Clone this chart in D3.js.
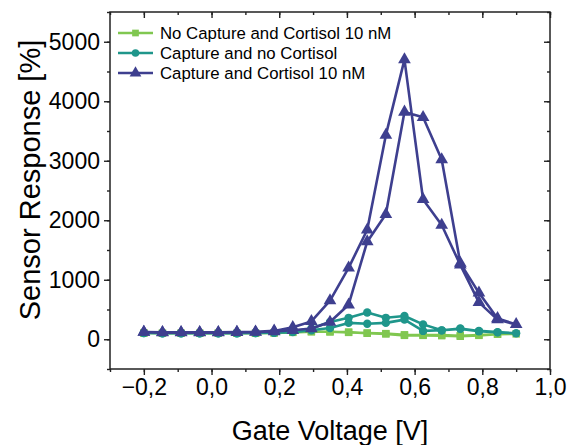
<!DOCTYPE html>
<html>
<head>
<meta charset="utf-8">
<script src="https://cdn.jsdelivr.net/npm/d3@7"></script>
<style>
    body { margin: 0; background: white; }
    svg { display: block; font-family: "Liberation Sans", Arial, sans-serif; }
</style>
</head>
<body>
<div id="chart"></div>
<script>

// Data
// --------------------------------------------------------------------------------------------

// Gate voltage steps of the sweep [V]
const voltage = [-0.2, -0.145, -0.09, -0.035, 0.02, 0.075, 0.13, 0.185, 0.24, 0.295, 0.35,
                 0.405, 0.46, 0.515, 0.57, 0.625, 0.68, 0.735, 0.79, 0.845, 0.9]

// Sensor response [%], forward sweep and backward sweep (both listed by ascending voltage)
const noCaptureUp   = [105, 100, 100, 100, 100, 100, 100, 105, 115, 125, 125, 120, 100, 90, 65, 65, 60, 50, 65, 85, 90]
const noCaptureDown = [105, 100, 100, 100, 100, 100, 100, 110, 120, 130, 125, 115, 105, 95, 75, 70, 70, 60, 70, 85, 90]

const noCortisolUp   = [105, 100, 100, 100, 100, 100, 105, 110, 130, 180, 290, 360, 450, 360, 390, 250, 150, 180, 140, 120, 100]
const noCortisolDown = [105, 100, 100, 100, 100, 100, 105, 110, 120, 150, 190, 275, 260, 275, 330, 140, 150, 175, 135, 115, 100]

const cortisolUp   = [120, 115, 115, 115, 115, 120, 125, 140, 200, 300, 650, 1200, 1840, 3430, 4700, 2350, 1920, 1250, 620, 330, 250]
const cortisolDown = [120, 110, 110, 110, 110, 115, 120, 130, 150, 180, 290, 580, 1640, 2100, 3820, 3730, 3020, 1280, 780, 350, 200]

const seriesNames = ["No Capture and Cortisol 10 nM", "Capture and no Cortisol", "Capture and Cortisol 10 nM"]
const seriesColours = ["#80c750", "#1f968b", "#3e3f8f"]
const seriesSymbols = [d3.symbolSquare, d3.symbolCircle, d3.symbolTriangle]

const xTicks = [-0.2, 0.0, 0.2, 0.4, 0.6, 0.8, 1.0]
const yTicks = [0, 1000, 2000, 3000, 4000, 5000]


// Chart
// --------------------------------------------------------------------------------------------

function drawChart(container) {

    const width = 575, height = 445
    const plot = {left: 110, right: 550, top: 12, bottom: 369}

    // Join up and down sweeps into one loop per series
    function sweepLoop(up, down) {
        let pts = voltage.map((v, i) => ({x: v, y: up[i]}))
        let back = voltage.map((v, i) => ({x: v, y: down[i]})).reverse()
        return pts.concat(back.slice(1))
    }
    let series = [
        sweepLoop(noCaptureUp, noCaptureDown),
        sweepLoop(noCortisolUp, noCortisolDown),
        sweepLoop(cortisolUp, cortisolDown)
    ]

    let x = d3.scaleLinear().domain([-0.3, 1.0]).range([plot.left, plot.right])
    let y = d3.scaleLinear().domain([-500, 5500]).range([plot.bottom, plot.top])

    // Comma decimals and a real minus sign
    let locale = d3.formatLocale({decimal: ",", thousands: "", grouping: [3], currency: ["", ""], minus: "\u2212"})
    let fmtX = locale.format(".1f")

    let svg = d3.select(container).append("svg")
        .attr("width", width)
        .attr("height", height)

    let xMinor = d3.range(-0.3, 1.0001, 0.1).map(d => +d.toFixed(2))
    let yMinor = d3.range(-500, 5501, 500)

    // Axes: outward ticks on left/bottom, inward on top/right
    function axisStyle(g) {
        g.select(".domain").remove()
        g.selectAll("line").attr("stroke", "#222").attr("stroke-width", 1.4)
    }

    svg.append("g")
        .attr("transform", `translate(0,${plot.bottom})`)
        .call(d3.axisBottom(x).tickValues(xMinor).tickSize(3).tickFormat(""))
        .call(axisStyle)
    svg.append("g")
        .attr("transform", `translate(0,${plot.bottom})`)
        .call(d3.axisBottom(x).tickValues(xTicks).tickSize(6).tickPadding(4).tickFormat(fmtX))
        .call(axisStyle)
        .selectAll("text")
            .attr("fill", "#000")
            .style("font-size", "23px")

    svg.append("g")
        .attr("transform", `translate(0,${plot.top})`)
        .call(d3.axisBottom(x).tickValues(xMinor).tickSize(3).tickFormat(""))
        .call(axisStyle)
    svg.append("g")
        .attr("transform", `translate(0,${plot.top})`)
        .call(d3.axisBottom(x).tickValues(xTicks).tickSize(6).tickFormat(""))
        .call(axisStyle)

    svg.append("g")
        .attr("transform", `translate(${plot.left},0)`)
        .call(d3.axisLeft(y).tickValues(yMinor).tickSize(3).tickFormat(""))
        .call(axisStyle)
    svg.append("g")
        .attr("transform", `translate(${plot.left},0)`)
        .call(d3.axisLeft(y).tickValues(yTicks).tickSize(6).tickPadding(4).tickFormat(d3.format("d")))
        .call(axisStyle)
        .selectAll("text")
            .attr("fill", "#000")
            .style("font-size", "23px")

    svg.append("g")
        .attr("transform", `translate(${plot.right},0)`)
        .call(d3.axisLeft(y).tickValues(yMinor).tickSize(3).tickFormat(""))
        .call(axisStyle)
    svg.append("g")
        .attr("transform", `translate(${plot.right},0)`)
        .call(d3.axisLeft(y).tickValues(yTicks).tickSize(6).tickFormat(""))
        .call(axisStyle)

    // Frame
    svg.append("rect")
        .attr("x", plot.left).attr("y", plot.top)
        .attr("width", plot.right - plot.left).attr("height", plot.bottom - plot.top)
        .attr("fill", "none").attr("stroke", "#222").attr("stroke-width", 1.5)

    // Lines and markers
    let line = d3.line().x(d => x(d.x)).y(d => y(d.y))
    let gData = svg.append("g")

    series.forEach((pts, i) => {
        let g = gData.append("g")
        g.append("path")
            .attr("d", line(pts))
            .attr("fill", "none")
            .attr("stroke", seriesColours[i])
            .attr("stroke-width", 2.6)
            .attr("stroke-linejoin", "round")
        g.selectAll("path.marker")
            .data(pts)
            .join("path")
            .attr("class", "marker")
            .attr("transform", d => `translate(${x(d.x)},${y(d.y)})`)
            .attr("d", d3.symbol().type(seriesSymbols[i]).size(i == 2 ? 70 : 55))
            .attr("fill", seriesColours[i])
    })

    // Legend
    let legend = svg.append("g").attr("transform", "translate(118,33)")
    seriesNames.forEach((name, i) => {
        let row = legend.append("g").attr("transform", `translate(0,${i * 20})`)
        row.append("line")
            .attr("x1", 0).attr("x2", 35)
            .attr("stroke", seriesColours[i]).attr("stroke-width", 2.6)
        row.append("path")
            .attr("transform", "translate(17.5,0)")
            .attr("d", d3.symbol().type(seriesSymbols[i]).size(i == 2 ? 60 : 45))
            .attr("fill", seriesColours[i])
        row.append("text")
            .attr("x", 42).attr("y", 0)
            .attr("dy", "0.35em")
            .style("font-size", "16.8px")
            .text(name)
    })

    // Axis titles
    svg.append("text")
        .attr("x", 330).attr("y", 440)
        .attr("text-anchor", "middle")
        .style("font-size", "27px")
        .text("Gate Voltage [V]")

    svg.append("text")
        .attr("transform", "translate(40,180) rotate(-90)")
        .attr("text-anchor", "middle")
        .style("font-size", "29px")
        .text("Sensor Response [%]")
}

drawChart("#chart")

</script>
</body>
</html>
